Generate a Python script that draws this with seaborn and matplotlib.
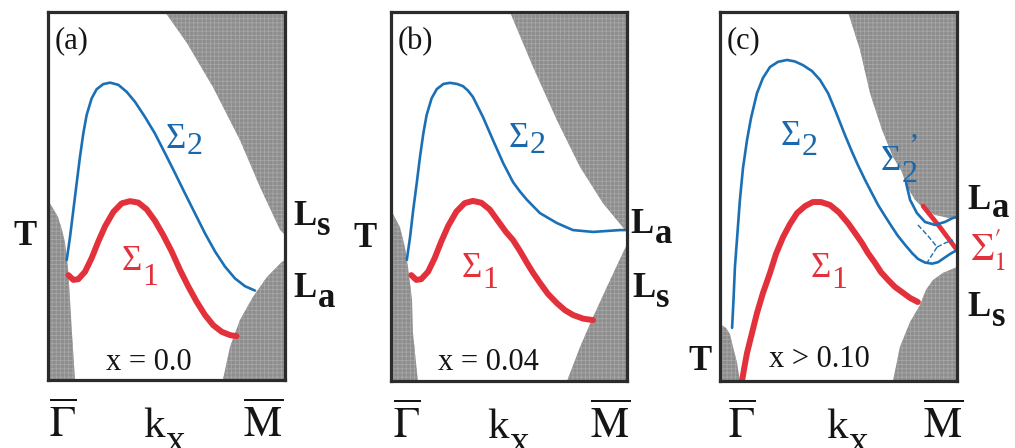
import matplotlib
matplotlib.use("Agg")
import matplotlib.pyplot as plt
import seaborn as sns

# ---------------------------------------------------------------
# Band dispersion along Gamma-bar -> M-bar (k in % of the path,
# E in % of the energy window), three compositions.
# ---------------------------------------------------------------

# (a) x = 0.0
A_S2_K = [7.9, 9.3, 10.7, 12.1, 13.5, 14.9, 16.3, 18.4, 20.5, 23.3, 26.2, 29.7, 33.2, 36.7, 40.9, 45.1,
          49.4, 53.6, 57.8, 62.0, 66.2, 70.5, 74.7, 78.9, 83.1, 87.3]
A_S2_E = [32.6, 38.9, 46.2, 53.5, 60.7, 67.0, 72.0, 76.5, 79.0, 80.4, 80.8, 80.2, 78.3, 75.6, 71.5, 67.0,
          61.6, 56.2, 50.7, 45.3, 39.9, 34.9, 30.8, 27.6, 25.5, 24.3]
A_S1_K = [8.6, 10.7, 12.8, 15.6, 18.4, 21.2, 24.1, 27.6, 31.1, 34.6, 38.1, 41.6, 45.1, 48.6, 52.2, 55.7,
          59.2, 62.7, 66.2, 69.7, 73.3, 76.8, 79.6]
A_S1_E = [28.5, 27.2, 27.4, 29.4, 33.1, 37.6, 41.8, 45.7, 48.0, 48.6, 48.2, 46.4, 43.3, 39.4, 34.9, 29.9,
          25.4, 21.3, 17.7, 14.9, 13.1, 12.2, 11.9]
A_TOP_K = [49.4, 58.6, 69.6, 81.0, 89.5, 97.9, 100]
A_TOP_E = [100, 91.6, 79.6, 65.2, 52.4, 40.8, 39.4]
A_LEFT_K = [0, 2.5, 4.2, 5.9, 7.2, 8.4, 9.3, 10.1, 11.4]
A_LEFT_E = [48.9, 46.2, 44.3, 40.8, 37.2, 30.7, 21.7, 12.8, 0]
A_LOW_K = [73.8, 76.8, 81.0, 86.5, 92.4, 98.7, 100]
A_LOW_E = [0, 9.0, 16.3, 22.6, 28.0, 32.1, 32.6]

# (b) x = 0.04
B_S2_K = [6.7, 8.1, 9.4, 10.9, 12.3, 13.7, 15.1, 17.2, 19.4, 22.2, 25.0, 28.0, 30.5, 32.6, 34.7, 39.0,
          43.2, 47.5, 51.7, 54.7, 57.6, 63.1, 70.3, 77.1, 85.6, 97.0, 100]
B_S2_E = [32.8, 39.1, 46.3, 53.6, 60.8, 67.1, 72.1, 76.6, 79.1, 80.5, 80.8, 80.5, 79.9, 78.7, 77.0, 71.5,
          65.3, 59.1, 53.9, 51.3, 49.1, 45.5, 42.8, 40.9, 40.4, 40.9, 40.9]
B_S1_K = [8.6, 10.7, 12.8, 15.7, 18.5, 21.3, 24.2, 27.7, 31.2, 34.7, 38.3, 41.8, 45.3, 48.7, 51.7, 54.7,
          57.6, 60.2, 63.1, 66.5, 70.3, 73.7, 77.1, 81.4, 85.6]
B_S1_E = [28.7, 27.4, 27.6, 29.6, 33.3, 37.8, 42.0, 45.9, 48.2, 48.8, 48.3, 46.5, 43.4, 40.4, 38.2, 35.2,
          32.0, 29.3, 26.6, 23.6, 21.1, 19.2, 17.9, 16.9, 16.5]
B_TOP_K = [50.4, 60.2, 70.3, 80.1, 89.8, 99.2, 100]
B_TOP_E = [100, 85.1, 70.7, 58.0, 48.2, 40.9, 40.4]
B_LEFT_K = [0, 3.8, 5.9, 7.2, 8.9, 9.3, 11.4]
B_LEFT_E = [46.3, 41.7, 36.3, 30.9, 22.0, 13.0, 0]
B_LOW_K = [74.6, 80.1, 85.6, 91.5, 99.2, 100]
B_LOW_E = [0, 9.2, 17.3, 25.5, 36.0, 36.9]

# (c) x > 0.10
C_S2_K = [5.1, 5.7, 6.3, 7.4, 8.4, 9.7, 11.4, 13.1, 15.6, 18.1, 21.1, 24.5, 28.3, 31.6, 35.0, 38.8,
          42.2, 45.6, 48.9, 52.7, 55.7, 58.2, 61.2, 64.1, 66.7, 69.6, 72.6, 75.1, 78.1, 81.0, 83.5,
          86.5, 89.5, 92.0, 94.5, 97.0, 100]
C_S2_E = [14.4, 22.0, 30.9, 40.4, 49.1, 57.7, 65.3, 71.3, 78.0, 82.1, 85.1, 86.5, 87.0, 86.6, 85.6, 84.0,
          81.6, 78.0, 72.9, 66.7, 62.1, 58.5, 54.5, 50.9, 47.7, 44.7, 41.7, 39.3, 36.9, 34.7, 33.1,
          32.1, 31.8, 32.2, 33.3, 34.4, 35.5]
C_S1_K = [9.3, 10.3, 11.4, 13.5, 15.6, 18.1, 21.1, 23.6, 26.6, 29.5, 32.5, 35.9, 39.2, 42.6, 46.4, 50.2,
          54.0, 57.0, 59.9, 62.4, 65.4, 67.9, 70.9, 73.8, 76.8, 80.2, 83.5]
C_S1_E = [0, 3.8, 7.6, 13.0, 18.4, 23.8, 29.3, 34.4, 39.0, 42.5, 45.5, 47.4, 48.5, 48.5, 47.7, 45.7,
          42.8, 40.1, 37.4, 34.7, 32.0, 29.5, 27.4, 25.5, 24.1, 22.5, 21.4]
C_S2P_K = [78.5, 80.2, 83.1, 86.5, 90.7, 94.9, 98.3, 100]
C_S2P_E = [53.7, 49.1, 45.5, 43.1, 42.3, 43.1, 44.2, 44.4]
C_S1P_K = [85.7, 92.8, 100]
C_S1P_E = [47.4, 41.7, 35.5]
C_DASH1_K = [83.5, 87.8, 91.6, 88.6, 87.3]
C_DASH1_E = [42.3, 39.3, 36.3, 33.3, 32.0]
C_DASH2_K = [91.6, 95.0, 98.3]
C_DASH2_E = [36.3, 37.4, 38.2]
C_TOP_K = [54.0, 59.1, 63.3, 68.4, 73.0, 76.8, 78.9, 82.3, 85.2, 90.7, 96.2, 100]
C_TOP_E = [100, 89.7, 78.0, 68.0, 60.7, 56.6, 52.6, 49.1, 47.2, 45.0, 44.2, 44.2]
C_LEFT_K = [0, 2.5, 4.2, 5.5, 7.2, 8.4]
C_LEFT_E = [15.4, 14.4, 12.7, 9.2, 4.9, 0]
C_LOW_K = [73.0, 75.9, 80.2, 84.4, 86.9, 89.9, 94.1, 100]
C_LOW_E = [0, 9.2, 16.0, 20.6, 24.7, 27.4, 29.3, 30.9]

PANEL_TAGS = ["(a)", "(b)", "(c)"]
COMPOSITIONS = ["x = 0.0", "x = 0.04", "x > 0.10"]

BLUE = "#1b70b5"
BLUE_TXT = "#1a68ab"
RED = "#e3313c"
GRAY = "#8d8d8d"
FRAME = "#2b2b2b"
INK = "#151515"

sns.set_theme(style="white")
plt.rcParams["font.family"] = ["Liberation Serif", "DejaVu Serif"]
plt.rcParams["mathtext.fontset"] = "stix"
plt.rcParams["hatch.linewidth"] = 0.6

W, H = 1015, 448
fig = plt.figure(figsize=(W / 100, H / 100), dpi=100)
fig.patch.set_facecolor("white")

# panel frames in pixels: left, bottom, width, height
frames = [(48, 68, 237, 368), (391, 67, 236, 369), (720, 67, 237, 369)]
axes = [fig.add_axes([l / W, b / H, w / W, h / H]) for (l, b, w, h) in frames]


def gray_region(ax, e, k, side):
    """Shade a projected bulk continuum bounded by the curve k(E)."""
    kw = dict(facecolor=GRAY, edgecolor="#a6a6a6", hatch="++++", linewidth=0, zorder=1)
    if side == "right":
        ax.fill_betweenx(e, k, 100, **kw)
    else:
        ax.fill_betweenx(e, 0, k, **kw)


def band(ax, k, e, color, lw, ls="-"):
    sns.lineplot(x=k, y=e, ax=ax, sort=False, estimator=None, color=color,
                 linewidth=lw, linestyle=ls, zorder=3)
    ax.lines[-1].set_solid_joinstyle("round")


def sub_label(ax, x, y, main, sub, color, size, sub_size, drop, weight="normal",
              prime=None, prime_off=(0, 0), sub_dx=0.5):
    ax.text(x, y, main, ha="right", va="baseline", fontsize=size, color=color,
            fontweight=weight, zorder=5)
    ax.annotate(sub, (x, y), xytext=(sub_dx, -drop), textcoords="offset points",
                ha="left", va="baseline", fontsize=sub_size, color=color,
                fontweight=weight, annotation_clip=False, zorder=5)
    if prime:
        ax.annotate(prime, (x, y), xytext=prime_off, textcoords="offset points",
                    ha="left", va="baseline", fontsize=sub_size, color=color,
                    annotation_clip=False, zorder=5)


for ax in axes:
    ax.set_xlim(0, 100)
    ax.set_ylim(0, 100)
    ax.set_xticks([])
    ax.set_yticks([])
    ax.set_xlabel("")
    ax.set_ylabel("")
    for s in ax.spines.values():
        s.set_visible(True)
        s.set_color(FRAME)
        s.set_linewidth(2.3)
        s.set_zorder(6)

# ---- (a) ----
ax = axes[0]
gray_region(ax, A_TOP_E, A_TOP_K, "right")
gray_region(ax, A_LEFT_E, A_LEFT_K, "left")
gray_region(ax, A_LOW_E, A_LOW_K, "right")
band(ax, A_S2_K, A_S2_E, BLUE, 1.9)
band(ax, A_S1_K, A_S1_E, RED, 4.3)

# ---- (b) ----
ax = axes[1]
gray_region(ax, B_TOP_E, B_TOP_K, "right")
gray_region(ax, B_LEFT_E, B_LEFT_K, "left")
gray_region(ax, B_LOW_E, B_LOW_K, "right")
band(ax, B_S2_K, B_S2_E, BLUE, 1.9)
band(ax, B_S1_K, B_S1_E, RED, 4.3)

# ---- (c) ----
ax = axes[2]
gray_region(ax, C_TOP_E, C_TOP_K, "right")
gray_region(ax, C_LEFT_E, C_LEFT_K, "left")
gray_region(ax, C_LOW_E, C_LOW_K, "right")
band(ax, C_S1P_K, C_S1P_E, RED, 3.4)
band(ax, C_DASH1_K, C_DASH1_E, BLUE, 1.0, "--")
band(ax, C_DASH2_K, C_DASH2_E, BLUE, 1.0, "--")
band(ax, C_S2_K, C_S2_E, BLUE, 1.9)
band(ax, C_S2P_K, C_S2P_E, BLUE, 1.9)
band(ax, C_S1_K, C_S1_E, RED, 4.3)

# ---- annotations ----
tag_pos = [(3.0, 90.2), (3.0, 90.0), (3.0, 90.2)]
comp_pos = [(42.6, 2.7), (41.1, 3.0), (41.8, 3.8)]
for ax, tag, (tx, ty), comp, (cx, cy) in zip(axes, PANEL_TAGS, tag_pos, COMPOSITIONS, comp_pos):
    ax.text(tx, ty, tag, ha="left", va="baseline", fontsize=22, color=INK, zorder=5)
    ax.text(cx, cy, comp, ha="center", va="baseline", fontsize=22, color=INK, zorder=5)

# high-symmetry points and momentum axis
sym_pos = [(6.3, 49.4, 90.7), (6.8, 50.0, 92.8), (9.3, 54.0, 94.1)]
for ax, (g, kk, m) in zip(axes, sym_pos):
    ax.text(g, -15.4, r"$\overline{\Gamma}$", ha="center", va="baseline", fontsize=31, color=INK)
    ax.text(m, -15.4, r"$\overline{\mathrm{M}}$", ha="center", va="baseline", fontsize=31, color=INK)
    sub_label(ax, kk, -15.4, "k", "x", INK, 31, 28, 11)

# band labels
sub_label(axes[0], 58.2, 63.0, "Σ", "2", BLUE_TXT, 25, 23, 4)
sub_label(axes[0], 39.5, 29.9, "Σ", "1", RED, 25, 23, 11)
sub_label(axes[1], 58.3, 63.4, "Σ", "2", BLUE_TXT, 25, 23, 4.5)
sub_label(axes[1], 38.3, 28.2, "Σ", "1", RED, 25, 23, 8)
sub_label(axes[2], 34.2, 64.0, "Σ", "2", BLUE_TXT, 25, 23, 7)
sub_label(axes[2], 46.8, 28.2, "Σ", "1", RED, 25, 23, 8)
sub_label(axes[2], 76.4, 57.2, "Σ", "2", BLUE_TXT, 25, 23, 9, prime="’", prime_off=(5, 11))

# level labels at the zone centre and zone boundary
bold = "bold"
axes[0].text(-9.7, 36.7, "T", ha="center", va="baseline", fontsize=25, fontweight=bold, color=INK)
axes[1].text(-11.0, 36.3, "T", ha="center", va="baseline", fontsize=25, fontweight=bold, color=INK)
axes[2].text(-8.4, 3.0, "T", ha="center", va="baseline", fontsize=25, fontweight=bold, color=INK)

sub_label(axes[0], 113.1, 42.1, "L", "s", INK, 25, 25, 7, weight=bold, sub_dx=1)
sub_label(axes[0], 113.1, 22.6, "L", "a", INK, 25, 25, 7, weight=bold, sub_dx=1)
sub_label(axes[1], 111.4, 40.1, "L", "a", INK, 25, 25, 7, weight=bold, sub_dx=1)
sub_label(axes[1], 111.9, 22.8, "L", "s", INK, 25, 25, 7, weight=bold, sub_dx=1)
sub_label(axes[2], 114.3, 46.6, "L", "a", INK, 25, 25, 6, weight=bold, sub_dx=1)
axes[2].text(105.5, 32.6, r"$\Sigma_{1}^{\prime}$", ha="left", va="baseline",
             fontsize=27, color=RED, zorder=5)
sub_label(axes[2], 114.3, 17.6, "L", "s", INK, 25, 25, 7, weight=bold, sub_dx=1)

fig.savefig("out.png", dpi=100, facecolor="white")
